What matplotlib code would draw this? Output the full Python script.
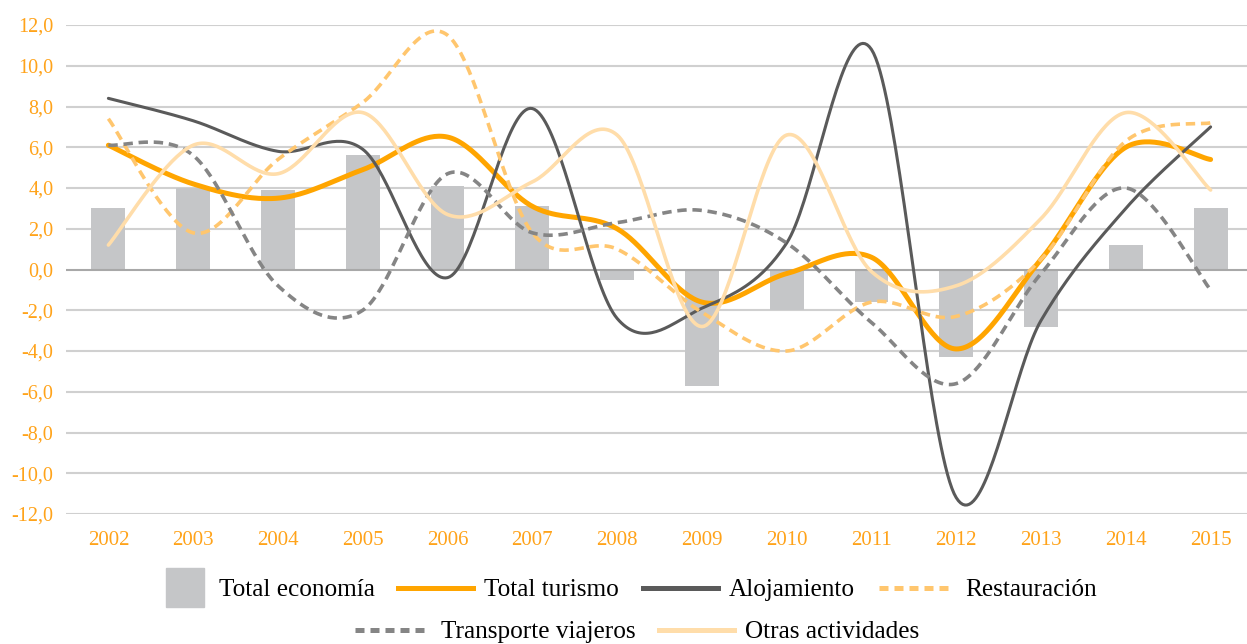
import numpy as np
import matplotlib.pyplot as plt
from matplotlib.patches import Patch, Rectangle
from matplotlib.lines import Line2D
from matplotlib.legend_handler import HandlerPatch

# Data (annual % change)
years = ['2002', '2003', '2004', '2005', '2006', '2007', '2008',
         '2009', '2010', '2011', '2012', '2013', '2014', '2015']

total_economia = [3.0, 4.0, 3.9, 5.6, 4.1, 3.1, -0.5, -5.7, -2.0, -1.6, -4.3, -2.8, 1.2, 3.0]
total_turismo = [6.1, 4.2, 3.5, 4.9, 6.5, 3.1, 2.0, -1.6, -0.2, 0.6, -3.9, 0.5, 6.0, 5.4]
alojamiento = [8.4, 7.3, 5.8, 5.9, -0.4, 7.9, -2.4, -1.9, 1.3, 10.8, -11.2, -2.5, 3.0, 7.0]
restauracion = [7.4, 1.8, 5.4, 8.2, 11.5, 1.8, 1.0, -2.1, -4.0, -1.6, -2.3, 0.5, 6.3, 7.2]
transporte = [6.1, 5.6, -0.8, -2.0, 4.7, 1.8, 2.3, 2.9, 1.3, -2.6, -5.6, -0.2, 4.0, -1.0]
otras = [1.2, 6.1, 4.7, 7.7, 2.7, 4.3, 6.6, -2.8, 6.6, -0.1, -0.8, 2.5, 7.7, 3.9]

ORANGE = '#FFA500'
TICK_COLOR = '#FFA31A'


def smooth(y, n=40):
    # bezier smoothing through every point (like spreadsheet "smoothed line")
    x = np.arange(len(y), dtype=float)
    y = np.asarray(y, dtype=float)
    xs, ys = [], []
    for i in range(len(y) - 1):
        i0 = max(i - 1, 0)
        i3 = min(i + 2, len(y) - 1)
        p0 = np.array([x[i], y[i]])
        p3 = np.array([x[i + 1], y[i + 1]])
        p1 = p0 + (np.array([x[i + 1], y[i + 1]]) - np.array([x[i0], y[i0]])) / 6
        p2 = p3 - (np.array([x[i3], y[i3]]) - np.array([x[i], y[i]])) / 6
        t = np.linspace(0, 1, n)[:, None]
        pts = ((1 - t) ** 3) * p0 + 3 * ((1 - t) ** 2) * t * p1 + 3 * (1 - t) * t ** 2 * p2 + t ** 3 * p3
        xs.extend(pts[:, 0])
        ys.extend(pts[:, 1])
    return np.array(xs), np.array(ys)


plt.rcParams['font.family'] = ['Liberation Serif', 'DejaVu Serif']

fig = plt.figure(figsize=(12.47, 6.44), dpi=100)
ax = fig.add_axes([66 / 1247, 1 - 514 / 644, (1253 - 66) / 1247, (514 - 25) / 644])

x = np.arange(len(years))
ax.bar(x, total_economia, width=0.4, color='#C5C6C8', zorder=2)

series = [
    (total_turismo, dict(color=ORANGE, lw=3.6)),
    (alojamiento, dict(color='#5A5A5A', lw=2.2)),
    (restauracion, dict(color='#FFC66E', lw=2.6, dashes=(2.6, 1.6))),
    (transporte, dict(color='#858585', lw=2.6, dashes=(2.6, 1.6))),
    (otras, dict(color='#FFDDAA', lw=2.6)),
]
for vals, style in series:
    sx, sy = smooth(vals)
    ax.plot(sx, sy, zorder=3, solid_capstyle='round', **style)

ax.set_xlim(-0.5, len(years) - 0.5)
ax.set_ylim(-12, 12)
ax.set_yticks(np.arange(-12, 13, 2))
ax.set_yticklabels([f'{v:.1f}'.replace('.', ',') for v in np.arange(-12, 13, 2)])
ax.set_xticks(x)
ax.set_xticklabels(years)
ax.tick_params(axis='y', length=0, pad=9, labelsize=14.5, labelcolor=TICK_COLOR)
ax.tick_params(axis='x', length=0, pad=12, labelsize=15, labelcolor=TICK_COLOR)

for v in np.arange(-12, 13, 2):
    ax.axhline(v, color='#A8A8A8' if v == 0 else '#D0D0D0', lw=1.5, zorder=1 if v else 2.5)
for s in ax.spines.values():
    s.set_visible(False)


def square_patch(legend, orig_handle, xdescent, ydescent, width, height, fontsize):
    side = 27.5
    return Rectangle((width - side - xdescent - 2, height / 2 - ydescent - side / 2), side, side)


h_eco = Patch(color='#C5C6C8', label='Total economía')
h_tur = Line2D([], [], color=ORANGE, lw=3.6, label='Total turismo')
h_alo = Line2D([], [], color='#5A5A5A', lw=3.6, label='Alojamiento')
h_res = Line2D([], [], color='#FFC66E', lw=3.6, dashes=(1.8, 1.2), label='Restauración')
h_tra = Line2D([], [], color='#858585', lw=3.6, dashes=(1.8, 1.2), label='Transporte viajeros')
h_otr = Line2D([], [], color='#FFDDAA', lw=3.6, label='Otras actividades')

leg_kw = dict(frameon=False, fontsize=18.2, handlelength=2.95, handletextpad=0.45,
              columnspacing=0.95, borderpad=0, loc='center left')
leg1 = fig.legend(handles=[h_eco, h_tur, h_alo, h_res], ncol=4,
                  bbox_to_anchor=(120 / 1247, 1 - 590 / 644),
                  handler_map={Patch: HandlerPatch(patch_func=square_patch)}, **leg_kw)
leg2 = fig.legend(handles=[h_tra, h_otr], ncol=2,
                  bbox_to_anchor=(342 / 1247, 1 - 632 / 644), **leg_kw)

fig.savefig('out.png', dpi=100)
